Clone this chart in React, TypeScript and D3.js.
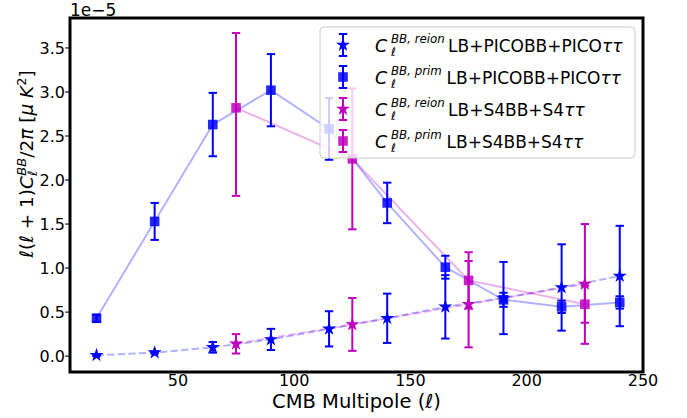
import React from "react";
import * as d3 from "d3";

// ---------- data ----------
const ellPico = [15, 40, 65, 90, 115, 140, 165, 190, 215, 240];
const reionPico = [0.01, 0.04, 0.1, 0.19, 0.31, 0.43, 0.56, 0.66, 0.78, 0.91];
const reionPicoErr = [0.01, 0.01, 0.06, 0.12, 0.2, 0.28, 0.36, 0.41, 0.49, 0.57];
const primPico = [0.43, 1.53, 2.63, 3.02, 2.58, 1.74, 1.01, 0.64, 0.56, 0.61];
const primPicoErr = [0.04, 0.21, 0.36, 0.41, 0.35, 0.23, 0.13, 0.08, 0.07, 0.07];

const ellS4 = [75, 125, 175, 225];
const reionS4 = [0.14, 0.36, 0.59, 0.82];
const reionS4Err = [0.11, 0.3, 0.49, 0.68];
const primS4 = [2.82, 2.24, 0.86, 0.59];
const primS4ErrLo = [1.0, 0.8, 0.32, 0.21];
const primS4ErrHi = [0.85, 0.8, 0.32, 0.21];

const xTicks = [50, 100, 150, 200, 250];
const yTicks = [0, 0.5, 1.0, 1.5, 2.0, 2.5, 3.0, 3.5];

const BLUE = "#0000ff";
const MAG = "#bf00bf";
const FONT = "DejaVu Sans";

type Series = {
  xs: number[];
  ys: number[];
  lo: number[];
  hi: number[];
  color: string;
  marker: "star" | "square";
  dashed: boolean;
  sup: string;
  rest: string;
};

const series: Series[] = [
  { xs: ellPico, ys: reionPico, lo: reionPicoErr, hi: reionPicoErr, color: BLUE, marker: "star", dashed: true, sup: "BB, reion", rest: "LB+PICOBB+PICO" },
  { xs: ellPico, ys: primPico, lo: primPicoErr, hi: primPicoErr, color: BLUE, marker: "square", dashed: false, sup: "BB, prim", rest: "LB+PICOBB+PICO" },
  { xs: ellS4, ys: reionS4, lo: reionS4Err, hi: reionS4Err, color: MAG, marker: "star", dashed: true, sup: "BB, reion", rest: "LB+S4BB+S4" },
  { xs: ellS4, ys: primS4, lo: primS4ErrLo, hi: primS4ErrHi, color: MAG, marker: "square", dashed: false, sup: "BB, prim", rest: "LB+S4BB+S4" },
];

const W = 687;
const H = 418;
const L = 70, R = 643, T = 18, B = 372;

const x = d3.scaleLinear().domain([3.6, 250]).range([L, R]);
const y = d3.scaleLinear().domain([-0.18, 3.84]).range([B, T]);

function starPath(cx: number, cy: number, r: number) {
  const pts: [number, number][] = [];
  const ri = r * 0.382;
  for (let i = 0; i < 10; i++) {
    const a = -Math.PI / 2 + (i * Math.PI) / 5;
    const rr = i % 2 === 0 ? r : ri;
    pts.push([cx + rr * Math.cos(a), cy + rr * Math.sin(a)]);
  }
  return "M" + pts.map((p) => p[0].toFixed(2) + "," + p[1].toFixed(2)).join("L") + "Z";
}

function Marker({ kind, cx, cy, color }: { kind: string; cx: number; cy: number; color: string }) {
  if (kind === "star") return <path d={starPath(cx, cy, 7.4)} fill={color} />;
  return <rect x={cx - 4.8} y={cy - 4.8} width={9.6} height={9.6} fill={color} fillOpacity={0.85} />;
}

function ErrBar({ cx, y0, y1, color }: { cx: number; y0: number; y1: number; color: string }) {
  return (
    <g stroke={color} strokeWidth={2}>
      <line x1={cx} x2={cx} y1={y0} y2={y1} />
      <line x1={cx - 4.2} x2={cx + 4.2} y1={y0} y2={y0} />
      <line x1={cx - 4.2} x2={cx + 4.2} y1={y1} y2={y1} />
    </g>
  );
}

export default function App() {
  return (
    <svg width={W} height={H} style={{ position: "absolute", left: 0, top: 0 }} fontFamily={FONT}>
      <rect x={0} y={0} width={W} height={H} fill="white" />
      {/* connecting lines */}
      {series.map((s, i) => {
        const pts = s.xs.map((v, k) => [x(v), y(s.ys[k])] as [number, number]);
        const d = d3.line()(pts) || "";
        return (
          <path
            key={"l" + i}
            d={d}
            fill="none"
            stroke={s.color}
            strokeOpacity={0.3}
            strokeWidth={2}
            strokeDasharray={s.dashed ? "7.4,3.2" : undefined}
          />
        );
      })}
      {/* error bars & markers */}
      {series.map((s, i) => (
        <g key={"s" + i}>
          {s.xs.map((v, k) => (
            <ErrBar key={k} cx={x(v)} y0={y(s.ys[k] + s.hi[k])} y1={y(s.ys[k] - s.lo[k])} color={s.color} />
          ))}
          {s.xs.map((v, k) => (
            <Marker key={"m" + k} kind={s.marker} cx={x(v)} cy={y(s.ys[k])} color={s.color} />
          ))}
        </g>
      ))}

      {/* axes frame */}
      <rect x={L} y={T} width={R - L} height={B - T} fill="none" stroke="black" strokeWidth={3} />

      {/* y ticks */}
      {yTicks.map((t) => (
        <g key={"yt" + t}>
          <line x1={L - 5} x2={L} y1={y(t)} y2={y(t)} stroke="black" strokeWidth={1} />
          <text x={L - 5} y={y(t) + 5.8} textAnchor="end" fontSize={16}>
            {t.toFixed(1)}
          </text>
        </g>
      ))}
      {/* x ticks */}
      {xTicks.map((t) => (
        <text key={"xt" + t} x={x(t)} y={386} textAnchor="middle" fontSize={16}>
          {t}
        </text>
      ))}
      <text x={L} y={15.5} fontSize={17}>1e−5</text>

      {/* x label */}
      <text x={(L + R) / 2} y={408} textAnchor="middle" fontSize={19.5}>
        CMB Multipole (<tspan fontStyle="italic">ℓ</tspan>)
      </text>

      {/* y label */}
      <text transform="translate(33,164) rotate(-90)" textAnchor="middle" fontSize={18.5}>
        <tspan fontStyle="italic">ℓ</tspan>
        <tspan>(</tspan>
        <tspan fontStyle="italic">ℓ</tspan>
        <tspan> + 1)</tspan>
        <tspan fontStyle="italic">C</tspan>
        <tspan fontStyle="italic" fontSize={13} dy={4}>ℓ</tspan>
        <tspan fontStyle="italic" fontSize={13} dx={-5} dy={-11}>BB</tspan>
        <tspan dy={7}>/2</tspan>
        <tspan fontStyle="italic">π</tspan>
        <tspan> [</tspan>
        <tspan fontStyle="italic">μ K</tspan>
        <tspan fontSize={13} dy={-7}>2</tspan>
        <tspan dy={7}>]</tspan>
      </text>

      {/* legend */}
      <rect x={320} y={27} width={315} height={131} rx={4} fill="white" fillOpacity={0.8} stroke="#cccccc" strokeWidth={1} />
      {series.map((s, i) => {
        const ry = 45 + i * 32;
        const cx = 343;
        const restX = s.sup.includes("reion") ? 448 : 446.5;
        return (
          <g key={"lg" + i}>
            <ErrBar cx={cx} y0={ry - 11} y1={ry + 11} color={s.color} />
            <Marker kind={s.marker} cx={cx} cy={ry} color={s.color} />
            <text x={375} y={ry + 6.5} fontSize={17.5} fontStyle="italic">C</text>
            <text x={391} y={ry - 2} fontSize={11.8} fontStyle="italic">{s.sup}</text>
            <text x={391} y={ry + 10.5} fontSize={11.8} fontStyle="italic">ℓ</text>
            <text x={restX} y={ry + 6.5} fontSize={17}>
              {s.rest}
              <tspan fontStyle="italic">ττ</tspan>
            </text>
          </g>
        );
      })}
    </svg>
  );
}
